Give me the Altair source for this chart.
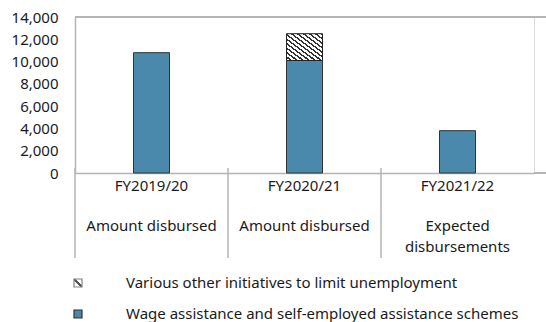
import altair as alt
import pandas as pd

# Fiscal years and what each column shows
years = ["FY2019/20", "FY2020/21", "FY2021/22"]
descriptions = ["Amount disbursed", "Amount disbursed", "Expected|disbursements"]

# Series (stack order bottom -> top)
series = [
    "Wage assistance and self-employed assistance schemes",
    "Various other initiatives to limit unemployment",
]
wage_assistance = [10800, 10100, 3800]
other_initiatives = [0, 2400, 0]

y_ticks = [0, 2000, 4000, 6000, 8000, 10000, 12000, 14000]

BLUE = "#4a89ab"
FRAME = "#b4b4b4"
FONT = "Noto Sans"
FS = 15
W, H = 459, 156

rows = []
for yr, a, b in zip(years, wage_assistance, other_initiatives):
    rows.append({"cat": yr, "series": series[0], "value": a, "order": 0})
    rows.append({"cat": yr, "series": series[1], "value": b, "order": 1})
df = pd.DataFrame(rows)
cats = pd.DataFrame({"cat": years, "desc": descriptions})


def stripes(periods, dark_frac, color):
    stops = []
    for k in range(periods):
        a = k / periods
        m = (k + 1 - dark_frac) / periods
        b = (k + 1) / periods
        stops += [
            alt.GradientStop(offset=a, color="#ffffff"),
            alt.GradientStop(offset=m, color="#ffffff"),
            alt.GradientStop(offset=m, color=color),
            alt.GradientStop(offset=b, color=color),
        ]
    return alt.Gradient(gradient="linear", stops=stops, x1=0, y1=1, x2=1, y2=0)


x_axis = alt.Axis(
    labelAngle=0,
    labelAlign="center",
    bandPosition=0.5,
    labelFont=FONT,
    labelFontSize=FS,
    labelColor="#1a1a1a",
    labelPadding=5,
    labelBaseline="top",
    ticks=False,
    domainColor=FRAME,
    domainWidth=1.5,
)
x_scale = alt.Scale(paddingInner=0, paddingOuter=0)
x_enc = alt.X("cat:N", sort=years, title=None, scale=x_scale, axis=x_axis)

y_enc = alt.Y(
    "v1:Q",
    title=None,
    scale=alt.Scale(domain=[0, 14000], nice=False),
    axis=alt.Axis(
        values=y_ticks,
        format=",.0f",
        grid=False,
        ticks=False,
        labelPadding=17,
        labelFont=FONT,
        labelFontSize=FS,
        labelColor="#1a1a1a",
        domainColor=FRAME,
        domainWidth=1.5,
    ),
)

base = alt.Chart(df).transform_stack(
    stack="value", groupby=["cat"], as_=["v0", "v1"], sort=[alt.SortField("order")]
)

wage_bars = base.transform_filter(alt.datum.series == series[0]).mark_bar(
    size=36, color=BLUE, stroke="#333333", strokeWidth=1
).encode(x=x_enc, y=y_enc, y2="v0:Q")

other_bars = base.transform_filter(
    (alt.datum.series == series[1]) & (alt.datum.value > 0)
).mark_bar(
    size=36, fill=stripes(12, 0.4, "#333333"), stroke="#222222", strokeWidth=1
).encode(x=x_enc, y=y_enc, y2="v0:Q")

# Second tier of category labels under the fiscal years
desc_text = alt.Chart(cats).mark_text(
    baseline="top", align="center", font=FONT, fontSize=FS, color="#1a1a1a",
    lineBreak="|", lineHeight=21,
).encode(x=x_enc, y=alt.value(H + 46), text="desc:N")

# Column separators below the axis, at the start of each band
separators = alt.Chart(cats).mark_rule(color=FRAME, strokeWidth=1.5).encode(
    x=alt.X("cat:N", sort=years, title=None, scale=x_scale, axis=x_axis, bandPosition=0),
    y=alt.value(H - 5),
    y2=alt.value(H + 85),
)

# Top frame line and axis extension to the right edge
top_line = alt.Chart(cats).mark_rule(color=FRAME, strokeWidth=1.5).encode(
    x=alt.value(0), x2=alt.value(W + 12), y=alt.value(0)
)
bottom_ext = alt.Chart(cats).mark_rule(color=FRAME, strokeWidth=1.5).encode(
    x=alt.value(W), x2=alt.value(W + 12), y=alt.value(H)
)

# Legend (hatched entry first)
legend_swatches = [
    alt.Gradient(
        gradient="linear",
        stops=[
            alt.GradientStop(offset=0, color="#ffffff"),
            alt.GradientStop(offset=0.38, color="#ffffff"),
            alt.GradientStop(offset=0.38, color="#555555"),
            alt.GradientStop(offset=0.62, color="#555555"),
            alt.GradientStop(offset=0.62, color="#ffffff"),
            alt.GradientStop(offset=1, color="#ffffff"),
        ],
        x1=0, y1=1, x2=1, y2=0,
    ),
    BLUE,
]
legend_strokes = ["#808080", "#333333"]
legend_rows = [266, 297]
legend_layers = []
for name, fill, stroke, ly in zip(
    [series[1], series[0]], legend_swatches, legend_strokes, legend_rows
):
    item = pd.DataFrame({"series": [name]})
    sw = alt.Chart(item).mark_rect(fill=fill, stroke=stroke, strokeWidth=1.2).encode(
        x=alt.value(-1), x2=alt.value(7), y=alt.value(ly - 4), y2=alt.value(ly + 4)
    )
    tx = alt.Chart(item).mark_text(
        align="left", baseline="middle", font=FONT, fontSize=FS, color="#1a1a1a"
    ).encode(x=alt.value(51), y=alt.value(ly), text="series:N")
    legend_layers += [sw, tx]

chart = alt.layer(
    wage_bars, other_bars, desc_text, separators, top_line, bottom_ext, *legend_layers
).properties(
    width=W,
    height=H,
    autosize=alt.AutoSizeParams(type="none"),
    padding={"left": 75, "top": 17, "right": 12, "bottom": 149},
).configure_view(stroke=None).configure(background="white")

chart.save("out.html", embed_options={"renderer": "svg", "actions": False})
